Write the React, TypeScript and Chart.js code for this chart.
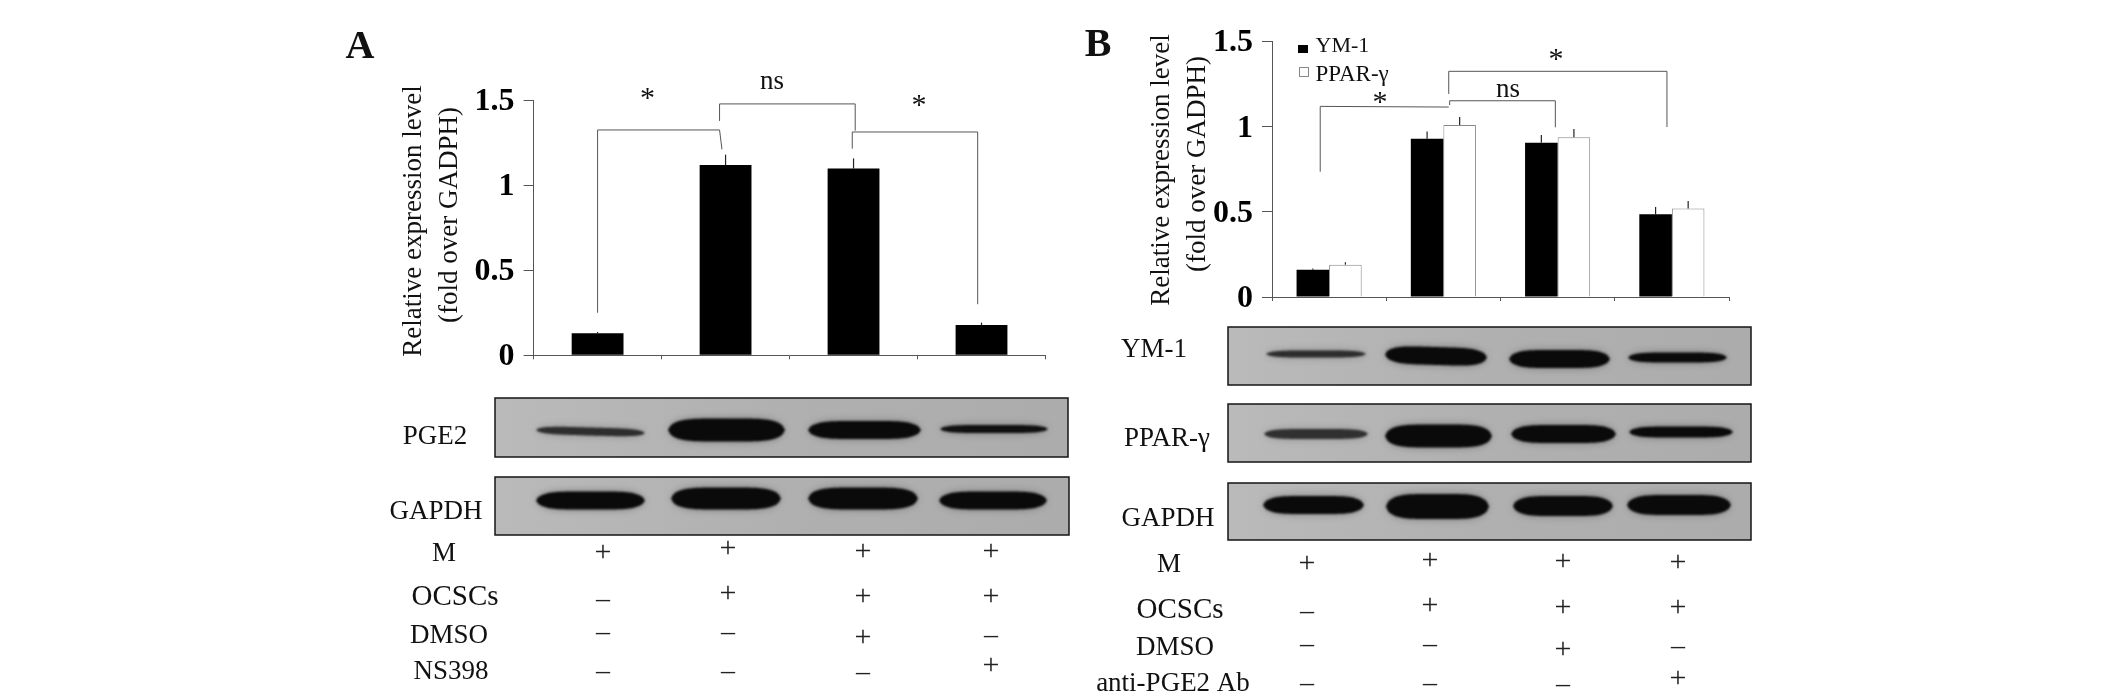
import React, { useEffect, useRef } from "react";
import { Chart, registerables } from "chart.js";

Chart.register(...registerables);

// ---------- data ----------
const groupsA = ["G1", "G2", "G3", "G4"];
const pge2Values = [0.129, 1.118, 1.097, 0.178];
const pge2ErrorTops = [0.137, 1.179, 1.157, 0.192];

const groupsB = ["G1", "G2", "G3", "G4"];
const ym1Values = [0.16, 0.93, 0.907, 0.486];
const ym1ErrorTops = [0.168, 0.973, 0.952, 0.529];
const pparValues = [0.19, 1.01, 0.938, 0.52];
const pparErrorTops = [0.204, 1.057, 0.987, 0.564];

const yTickLabels: Record<string, string> = { "0": "0", "0.5": "0.5", "1": "1", "1.5": "1.5" };

// brackets in axis units: x = group index, y = fold level
const bracketsA = [
  [[0, 0.25], [0, 1.324], [0.953, 1.324], [0.972, 1.21]],
  [[0.953, 1.377], [0.953, 1.477], [2.013, 1.477], [2.013, 1.32]],
  [[1.99, 1.214], [1.99, 1.312], [2.97, 1.312], [2.97, 0.3]],
];
const bracketsB = [
  [[-0.078, 0.736], [-0.078, 1.12], [1.047, 1.116]],
  [[1.055, 1.128], [1.055, 1.153], [1.98, 1.153], [1.98, 0.997]],
  [[1.047, 1.193], [1.047, 1.326], [2.957, 1.326], [2.957, 0.999]],
];

const treatmentRowsA = [
  ["M", "+", "+", "+", "+"],
  ["OCSCs", "–", "+", "+", "+"],
  ["DMSO", "–", "–", "+", "–"],
  ["NS398", "–", "–", "–", "+"],
];
const treatmentRowsB = [
  ["M", "+", "+", "+", "+"],
  ["OCSCs", "–", "+", "+", "+"],
  ["DMSO", "–", "–", "+", "–"],
  ["anti-PGE2 Ab", "–", "–", "–", "+"],
];

// ---------- layout (page pixels) ----------
const SERIF = "'Liberation Serif'";
const W = 2126;
const H = 692;
const SPLIT = 1075;

type Band = [number, number, number, number, number, number?]; // x1, x2, yc, h, darkness 0..1, tilt
type Blot = { box: [number, number, number, number]; bands: Band[] };

const blotsA: Blot[] = [
  {
    box: [495, 398, 1068, 457],
    bands: [
      [536, 645, 431.5, 8, 0.72, 3],
      [668, 785, 430, 23, 1],
      [808, 921, 430, 18, 1],
      [940, 1048, 429, 8, 0.95],
    ],
  },
  {
    box: [495, 477, 1069, 535],
    bands: [
      [536, 645, 500.5, 18, 1],
      [671, 781, 498.5, 22, 1],
      [808, 918, 498.5, 22, 1],
      [939, 1047, 500.5, 18, 1],
    ],
  },
];
const blotsB: Blot[] = [
  {
    box: [1228, 327, 1751, 385],
    bands: [
      [1266, 1366, 354, 7, 0.72],
      [1385, 1487, 356, 18, 1, 3],
      [1509, 1610, 359, 18, 1],
      [1628, 1727, 357.5, 10, 1],
    ],
  },
  {
    box: [1228, 404, 1751, 462],
    bands: [
      [1264, 1368, 434, 10, 0.7],
      [1385, 1492, 436, 23, 1],
      [1511, 1616, 434, 18, 1],
      [1629, 1733, 432, 11, 1],
    ],
  },
  {
    box: [1228, 483, 1751, 540],
    bands: [
      [1263, 1364, 505, 18, 1],
      [1386, 1489, 506.5, 25, 1],
      [1513, 1613, 506, 20, 1],
      [1627, 1731, 505, 20, 1],
    ],
  },
];

type Label = [string, number, number];
const blotLabelsA: Label[] = [["PGE2", 435, 435], ["GAPDH", 436, 510]];
const blotLabelsB: Label[] = [["YM-1", 1154, 348], ["PPAR-γ", 1167, 437], ["GAPDH", 1168, 517]];

const treatmentLayoutA = {
  labelX: [444, 455, 449, 451],
  labelY: [552, 595, 634, 670],
  colX: [603, 728, 863, 991],
  markY: [
    [553, 549, 552, 552],
    [600, 594, 597, 597],
    [633, 633, 638, 636],
    [672, 672, 673, 666],
  ],
};
const treatmentLayoutB = {
  labelX: [1169, 1180, 1175, 1173],
  labelY: [563, 608, 646, 682],
  colX: [1307, 1430, 1563, 1678],
  markY: [
    [564, 561, 562, 563],
    [612, 606, 608, 608],
    [645, 645, 650, 647],
    [684, 684, 685, 679],
  ],
};

// ---------- drawing helpers ----------
function text(ctx: any, s: string, x: number, yc: number, size: number, align = "center", weight = "") {
  ctx.font = `${weight} ${size}px ${SERIF}`;
  ctx.textAlign = align;
  ctx.textBaseline = "alphabetic";
  ctx.fillStyle = "#111";
  ctx.fillText(s, x, yc + size * 0.33);
}

function mark(ctx: any, s: string, x: number, yc: number) {
  const size = s === "+" ? 30 : 28;
  ctx.font = `${size}px ${SERIF}`;
  ctx.textAlign = "center";
  ctx.textBaseline = "alphabetic";
  ctx.fillStyle = "#222";
  ctx.fillText(s, x, yc + size * 0.25);
}

function star(ctx: any, x: number, yc: number) {
  ctx.font = `30px ${SERIF}`;
  ctx.textAlign = "center";
  ctx.textBaseline = "alphabetic";
  ctx.fillStyle = "#111";
  ctx.fillText("*", x, yc + 30 * 0.47);
}

function vertical(ctx: any, s: string, x: number, yc: number) {
  ctx.save();
  ctx.translate(x, yc);
  ctx.rotate(-Math.PI / 2);
  text(ctx, s, 0, 0, 27);
  ctx.restore();
}

function lensPath(ctx: any, a: number, b: number, yc: number, h: number, tilt: number) {
  const steps = 48;
  const cx = (a + b) / 2;
  const hw = (b - a) / 2;
  ctx.beginPath();
  for (let i = 0; i <= steps; i++) {
    const t = -1 + (2 * i) / steps;
    const half = (h / 2) * Math.pow(1 - Math.pow(Math.abs(t), 5), 0.6);
    const y = yc + (t * tilt) / 2 - half;
    if (i === 0) ctx.moveTo(cx + t * hw, y);
    else ctx.lineTo(cx + t * hw, y);
  }
  for (let i = steps; i >= 0; i--) {
    const t = -1 + (2 * i) / steps;
    const half = (h / 2) * Math.pow(1 - Math.pow(Math.abs(t), 5), 0.6);
    ctx.lineTo(cx + t * hw, yc + (t * tilt) / 2 + half);
  }
  ctx.closePath();
}

function drawBlot(ctx: any, blot: Blot) {
  const [x1, y1, x2, y2] = blot.box;
  const g = ctx.createLinearGradient(x1, 0, x2, 0);
  g.addColorStop(0, "#bababa");
  g.addColorStop(0.5, "#b0b0b0");
  g.addColorStop(1, "#acacac");
  ctx.fillStyle = g;
  ctx.fillRect(x1, y1, x2 - x1, y2 - y1);
  ctx.save();
  ctx.beginPath();
  ctx.rect(x1, y1, x2 - x1, y2 - y1);
  ctx.clip();
  for (const [a, b, yc, h, dark, tilt = 0] of blot.bands) {
    ctx.filter = "blur(3px)";
    ctx.fillStyle = `rgba(90,90,90,${0.45 * dark})`;
    lensPath(ctx, a, b, yc, h + 3, tilt);
    ctx.fill();
    ctx.filter = "blur(1.2px)";
    const c = Math.round(135 - 125 * dark);
    ctx.fillStyle = `rgb(${c},${c},${c})`;
    lensPath(ctx, a, b, yc, h, tilt);
    ctx.fill();
  }
  ctx.restore();
  ctx.filter = "none";
  ctx.strokeStyle = "#151515";
  ctx.lineWidth = 1.5;
  ctx.strokeRect(x1, y1, x2 - x1, y2 - y1);
}

function drawTreatments(ctx: any, rows: string[][], layout: typeof treatmentLayoutA) {
  rows.forEach((row, r) => {
    text(ctx, row[0], layout.labelX[r], layout.labelY[r], r === 1 ? 29 : 27);
    row.slice(1).forEach((m, c) => mark(ctx, m, layout.colX[c], layout.markY[r][c]));
  });
}

function marksPlugin(tops: number[][], brackets: number[][][]) {
  return {
    id: "errorBarsAndBrackets",
    afterDatasetsDraw(chart: any) {
      const { ctx } = chart;
      const xs = chart.scales.x;
      const ys = chart.scales.y;
      ctx.save();
      ctx.strokeStyle = "#222";
      ctx.lineWidth = 1.2;
      tops.forEach((series, d) => {
        const meta = chart.getDatasetMeta(d);
        series.forEach((top, i) => {
          const el = meta.data[i];
          ctx.beginPath();
          ctx.moveTo(el.x, el.y);
          ctx.lineTo(el.x, ys.getPixelForValue(top));
          ctx.stroke();
        });
      });
      const step = xs.getPixelForValue(1) - xs.getPixelForValue(0);
      ctx.strokeStyle = "#555";
      ctx.lineWidth = 1;
      brackets.forEach((b) => {
        ctx.beginPath();
        b.forEach(([c, v], i) => {
          const px = xs.getPixelForValue(0) + c * step;
          const py = ys.getPixelForValue(v);
          if (i === 0) ctx.moveTo(px, py);
          else ctx.lineTo(px, py);
        });
        ctx.stroke();
      });
      ctx.restore();
    },
  };
}

function axisOptions(yAxisWidth: number, xAxisHeight: number) {
  return {
    x: {
      type: "category",
      offset: true,
      grid: { offset: true, drawOnChartArea: false, tickLength: 4, color: "#555" },
      border: { color: "#555" },
      ticks: { display: false },
      afterFit: (s: any) => { s.height = xAxisHeight; },
    },
    y: {
      min: 0,
      max: 1.5,
      grid: { drawOnChartArea: false, tickLength: 10, color: "#555" },
      border: { color: "#555" },
      ticks: {
        stepSize: 0.5,
        padding: 9,
        labelOffset: 1.5,
        color: "#000",
        font: { family: SERIF, weight: "bold", size: 32 },
        callback: (v: number) => yTickLabels[String(v)],
      },
      afterFit: (s: any) => { s.width = yAxisWidth; },
    },
  };
}

function buildA(canvas: HTMLCanvasElement) {
  return new Chart(canvas, {
    type: "bar",
    data: {
      labels: groupsA,
      datasets: [
        { label: "PGE2", data: pge2Values, backgroundColor: "#000", categoryPercentage: 0.405, barPercentage: 1 },
      ],
    } as any,
    options: {
      responsive: false,
      animation: false,
      events: [],
      layout: { padding: { left: 0, right: SPLIT - 1045.5, top: 100, bottom: 0 } },
      plugins: { legend: { display: false }, tooltip: { enabled: false } },
      scales: axisOptions(533.6, H - 355.3),
    } as any,
    plugins: [
      marksPlugin([pge2ErrorTops], bracketsA),
      {
        id: "panelA",
        afterDraw(chart: any) {
          const { ctx } = chart;
          ctx.save();
          text(ctx, "A", 360, 45, 40, "center", "bold");
          vertical(ctx, "Relative expression level", 412, 221);
          vertical(ctx, "(fold over GADPH)", 448, 215);
          star(ctx, 647.5, 93);
          text(ctx, "ns", 772, 80, 27);
          star(ctx, 919, 100);
          blotsA.forEach((b) => drawBlot(ctx, b));
          blotLabelsA.forEach(([s, x, y]) => text(ctx, s, x, y, 27));
          drawTreatments(ctx, treatmentRowsA, treatmentLayoutA);
          ctx.restore();
        },
      },
    ],
  } as any);
}

function buildB(canvas: HTMLCanvasElement) {
  return new Chart(canvas, {
    type: "bar",
    data: {
      labels: groupsB,
      datasets: [
        { label: "YM-1", data: ym1Values, backgroundColor: "#000", borderColor: "#000", borderWidth: 0, categoryPercentage: 0.57, barPercentage: 1 },
        { label: "PPAR-γ", data: pparValues, backgroundColor: "#fff", borderColor: "#888", borderWidth: 1, categoryPercentage: 0.57, barPercentage: 1 },
      ],
    } as any,
    options: {
      responsive: false,
      animation: false,
      events: [],
      layout: { padding: { left: 0, right: W - 1729, top: 41.7, bottom: 0 } },
      plugins: { legend: { display: false }, tooltip: { enabled: false } },
      scales: axisOptions(1272 - SPLIT, H - 297),
    } as any,
    plugins: [
      marksPlugin([ym1ErrorTops, pparErrorTops], bracketsB),
      {
        id: "panelB",
        afterDraw(chart: any) {
          const { ctx } = chart;
          ctx.save();
          ctx.translate(-SPLIT, 0);
          text(ctx, "B", 1098, 43, 40, "center", "bold");
          vertical(ctx, "Relative expression level", 1160, 170);
          vertical(ctx, "(fold over GADPH)", 1196, 164);
          star(ctx, 1380, 97);
          text(ctx, "ns", 1508, 88, 27);
          star(ctx, 1556, 54);
          // legend
          ctx.fillStyle = "#000";
          ctx.fillRect(1298, 45, 10, 8);
          ctx.fillStyle = "#fff";
          ctx.strokeStyle = "#888";
          ctx.lineWidth = 1;
          ctx.fillRect(1299, 67, 10, 9);
          ctx.strokeRect(1299.5, 67.5, 9, 9);
          text(ctx, "YM-1", 1315.5, 45, 22, "left");
          text(ctx, "PPAR-γ", 1315.5, 73, 23, "left");
          blotsB.forEach((b) => drawBlot(ctx, b));
          blotLabelsB.forEach(([s, x, y]) => text(ctx, s, x, y, 27));
          drawTreatments(ctx, treatmentRowsB, treatmentLayoutB);
          ctx.restore();
        },
      },
    ],
  } as any);
}

export default function App() {
  const refA = useRef<HTMLCanvasElement>(null);
  const refB = useRef<HTMLCanvasElement>(null);
  useEffect(() => {
    const a = buildA(refA.current!);
    const b = buildB(refB.current!);
    return () => {
      a.destroy();
      b.destroy();
    };
  }, []);
  return (
    <div style={{ position: "fixed", left: 0, top: 0, width: W, height: H, background: "#fff", overflow: "hidden" }}>
      <canvas ref={refA} width={SPLIT} height={H} style={{ position: "absolute", left: 0, top: 0 }} />
      <canvas ref={refB} width={W - SPLIT} height={H} style={{ position: "absolute", left: SPLIT, top: 0 }} />
    </div>
  );
}
